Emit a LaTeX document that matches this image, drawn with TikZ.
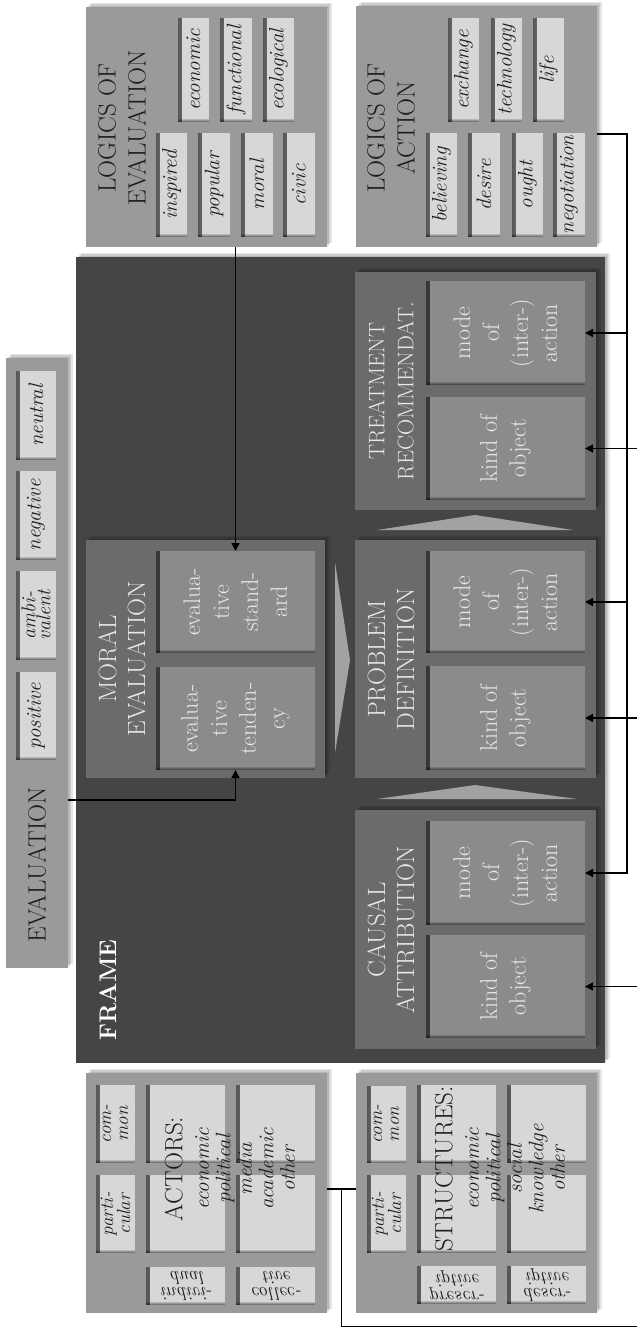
\documentclass[tikz,border=0pt]{standalone}
\usetikzlibrary{arrows.meta,fit,calc,shadows,fadings}
\tikzfading[name=myfadeR, left color=transparent!0, right color=transparent!100]
\tikzfading[name=myfadeU, bottom color=transparent!0, top color=transparent!100]
\definecolor{panel}{HTML}{9A9A9A}
\definecolor{lightbox}{HTML}{D7D7D7}
\definecolor{framebg}{HTML}{454545}
\definecolor{colbox}{HTML}{6B6B6B}
\definecolor{colin}{HTML}{8B8B8B}
\definecolor{tri}{HTML}{A2A2A2}
\definecolor{dtxt}{HTML}{1C1C1C}
\definecolor{ltxt}{HTML}{E8E8E8}
\tikzset{
  softshadow/.style={
    general shadow={fill=black,opacity=.10,shadow xshift=1.5pt,shadow yshift=1.5pt},
    general shadow={fill=black,opacity=.10,shadow xshift=3pt,shadow yshift=3pt},
    general shadow={fill=black,opacity=.10,shadow xshift=4.5pt,shadow yshift=4.5pt}},
  bx/.style={rectangle, inner sep=0pt, outer sep=0pt},
  panelbox/.style={bx, fill=panel, softshadow},
  framebox/.style={bx, fill=framebg, softshadow},
  colbx/.style={bx, fill=colbox, softshadow},
  inset/.style={path picture={
    \fill[black,opacity=.6,path fading=myfadeR]
      (path picture bounding box.south west) rectangle ([xshift=4pt]path picture bounding box.north west);
    \fill[black,opacity=.6,path fading=myfadeU]
      (path picture bounding box.south west) rectangle ([yshift=4pt]path picture bounding box.south east);}},
  lbox/.style={bx, fill=lightbox, inset},
  fbox/.style={bx, fill=colin, inset},
  ttl/.style={rotate=90, align=center, inner sep=0pt, text=dtxt, font=\fontsize{25}{30}\selectfont},
  itx/.style={rotate=90, align=center, inner sep=0pt, text=dtxt, font=\fontsize{21}{17}\selectfont\itshape},
  itwo/.style={rotate=90, align=center, inner sep=0pt, text=dtxt, font=\fontsize{19}{17}\selectfont\itshape},
  itxr/.style={yscale=-1, align=center, inner sep=0pt, text=dtxt, font=\fontsize{19}{16}\selectfont\itshape},
  ftl/.style={rotate=90, align=center, inner sep=0pt, text=ltxt, font=\fontsize{25}{29}\selectfont},
  ftx/.style={rotate=90, align=center, inner sep=0pt, text=ltxt, font=\fontsize{24}{29}\selectfont},
  ln/.style={line width=1.4pt, black},
  arr/.style={ln, -{Triangle[length=8pt,width=8pt]}},
}
\newcommand\mybox[5]{\node[#1, fit={#2}] (#3) {}; \node[#4] (#3-t) at (#3) {#5};}
\begin{document}
\begin{tikzpicture}[x=1pt,y=-1pt]
\useasboundingbox (0,0) rectangle (637,1328);
\clip (0,0) rectangle (637,1328);
\fill[white] (0,0) rectangle (637,1328);

% ---------- outer panels ----------
\node[panelbox, fit={(86,7)(327,247)}] (LoE) {};
\node[panelbox, fit={(356,6)(597,247)}] (LoA) {};
\node[panelbox, fit={(6,358)(68,968)}] (Eval) {};
\node[framebox, fit={(76,257)(605,1063)}] (Frame) {};
\node[panelbox, fit={(86,1073)(327,1313)}] (Actors) {};
\node[panelbox, fit={(356,1073)(597,1313)}] (Struct) {};

% ---------- logics of evaluation ----------
\node[ttl] (LoE-t) at (122,128) {LOGICS OF\\EVALUATION};
\mybox{lbox}{(156,133)(187,237)}{inspired}{itx}{inspired}
\mybox{lbox}{(198,133)(230,237)}{popular}{itx}{popular}
\mybox{lbox}{(241,133)(273,237)}{moral}{itx}{moral}
\mybox{lbox}{(283,133)(315,237)}{civic}{itx}{civic}
\mybox{lbox}{(178,18)(209,122)}{economic}{itx}{economic}
\mybox{lbox}{(220,18)(252,122)}{functional}{itx}{functional}
\mybox{lbox}{(263,18)(294,122)}{ecological}{itx}{ecological}

% ---------- logics of action ----------
\node[ttl] (LoA-t) at (391,128) {LOGICS OF\\ACTION};
\mybox{lbox}{(426,133)(457,237)}{believing}{itx}{believing}
\mybox{lbox}{(468,133)(500,237)}{desire}{itx}{desire}
\mybox{lbox}{(512,133)(543,237)}{ought}{itx}{ought}
\mybox{lbox}{(553,133)(585,237)}{negotiation}{itx}{negotiation}
\mybox{lbox}{(448,18)(479,122)}{exchange}{itx}{exchange}
\mybox{lbox}{(491,18)(522,122)}{technology}{itx}{technology}
\mybox{lbox}{(533,18)(564,122)}{life}{itx}{life}

% ---------- evaluation ----------
\node[ttl] (Eval-t) at (37,865) {EVALUATION};
\mybox{lbox}{(16,672)(56,760)}{positive}{itx}{positive}
\mybox{lbox}{(16,571)(56,660)}{ambivalent}{itwo, font=\fontsize{20}{15}\selectfont\itshape}{ambi-\\valent}
\mybox{lbox}{(16,471)(56,560)}{negative}{itx}{negative}
\mybox{lbox}{(16,371)(56,460)}{neutral}{itx}{neutral}

% ---------- frame ----------
\node[rotate=90, inner sep=0pt, text=white, font=\fontsize{24}{26}\selectfont\bfseries] (Frame-t) at (108,990) {FRAME};

\node[colbx, fit={(86,540)(325,778)}] (ME) {};
\node[ftl] (ME-t) at (122,659) {MORAL\\EVALUATION};
\mybox{fbox}{(156,551)(315,653)}{evstand}{ftx}{evalua-\\tive\\stand-\\ard}
\mybox{fbox}{(156,667)(315,770)}{evtend}{ftx}{evalua-\\tive\\tenden-\\cy}

\node[colbx, fit={(355,272)(596,510)}] (TR) {};
\node[ftl, font=\fontsize{22.5}{29}\selectfont] (TR-t) at (391,391) {TREATMENT\\RECOMMENDAT.};
\mybox{fbox}{(426,281)(585,385)}{TRmode}{ftx}{mode\\of\\(inter-)\\action}
\mybox{fbox}{(426,397)(585,500)}{TRkind}{ftx}{kind of\\object}

\node[colbx, fit={(355,540)(596,778)}] (PD) {};
\node[ftl] (PD-t) at (391,659) {PROBLEM\\DEFINITION};
\mybox{fbox}{(426,551)(585,653)}{PDmode}{ftx}{mode\\of\\(inter-)\\action}
\mybox{fbox}{(426,666)(585,770)}{PDkind}{ftx}{kind of\\object}

\node[colbx, fit={(355,810)(596,1049)}] (CA) {};
\node[ftl] (CA-t) at (391,930) {CAUSAL\\ATTRIBUTION};
\mybox{fbox}{(426,821)(585,925)}{CAmode}{ftx}{mode\\of\\(inter-)\\action}
\mybox{fbox}{(426,935)(585,1038)}{CAkind}{ftx}{kind of\\object}

% flow triangles
\fill[tri] (377,530) -- (573,530) -- (475,515) -- cycle;
\fill[tri] (377,799) -- (577,799) -- (475,785) -- cycle;
\fill[tri] (335,562) -- (335,753) -- (350,660) -- cycle;

% ---------- actors ----------
\mybox{lbox}{(96,1085)(135,1163)}{Acommon}{itwo}{com-\\mon}
\mybox{lbox}{(96,1175)(135,1253)}{Apart}{itwo}{parti-\\cular}
\node[lbox, fit={(146,1085)(225,1163)}] (A1) {};
\node[lbox, fit={(146,1175)(225,1253)}] (A2) {};
\node[lbox, fit={(236,1085)(315,1163)}] (A3) {};
\node[lbox, fit={(236,1175)(315,1253)}] (A4) {};
\node[itx, font=\fontsize{21}{21.5}\selectfont\itshape] (Actors-t) at (230,1169)
  {{\upshape\fontsize{25}{26}\selectfont ACTORS:}\\[5pt]economic\\political\\media\\academic\\other};
\mybox{lbox}{(146,1267)(225,1305)}{Aind}{itxr}{indivi-\\dual}
\mybox{lbox}{(236,1267)(315,1305)}{Acoll}{itxr}{collec-\\tive}

% ---------- structures ----------
\mybox{lbox}{(367,1086)(406,1163)}{Scommon}{itwo}{com-\\mon}
\mybox{lbox}{(367,1175)(406,1253)}{Spart}{itwo}{parti-\\cular}
\node[lbox, fit={(417,1085)(496,1163)}] (S1) {};
\node[lbox, fit={(417,1175)(496,1253)}] (S2) {};
\node[lbox, fit={(507,1085)(586,1163)}] (S3) {};
\node[lbox, fit={(507,1175)(586,1253)}] (S4) {};
\node[itx, font=\fontsize{21}{21.5}\selectfont\itshape] (Struct-t) at (500,1169)
  {{\upshape\fontsize{25}{26}\selectfont STRUCTURES:}\\[5pt]economic\\political\\social\\knowledge\\other};
\mybox{lbox}{(417,1266)(496,1304)}{Spre}{itxr}{prescr-\\iptive}
\mybox{lbox}{(507,1266)(586,1304)}{Sdes}{itxr}{descr-\\iptive}

% ---------- connectors ----------
\draw[arr] (evstand.north |- LoE.south) -- (evstand.north);
\draw[arr] ([yshift=-137pt]Eval.east) -| (evtend.south);

\draw[arr] ([yshift=-7.5pt]LoA.east) -| ([xshift=42pt]CAmode.east) -- (CAmode.east);
\draw[arr] ([xshift=42pt]TRmode.east) -- (TRmode.east);
\draw[arr] ([xshift=42pt]PDmode.east) -- (PDmode.east);

\draw[ln] ([yshift=4pt]Actors.east) -- ([yshift=4pt]Struct.west);
\coordinate (bbL) at ($([yshift=4pt]Actors.east)!.5!([yshift=4pt]Struct.west)$);
\coordinate (bbR) at (641,1326.5);
\draw[ln] (bbL) |- (bbR) -- (bbR |- TRkind.east);
\draw[arr] (bbR |- TRkind.east) -- (TRkind.east);
\draw[arr] (bbR |- PDkind.east) -- (PDkind.east);
\draw[arr] (bbR |- CAkind.east) -- (CAkind.east);
\end{tikzpicture}
\end{document}
